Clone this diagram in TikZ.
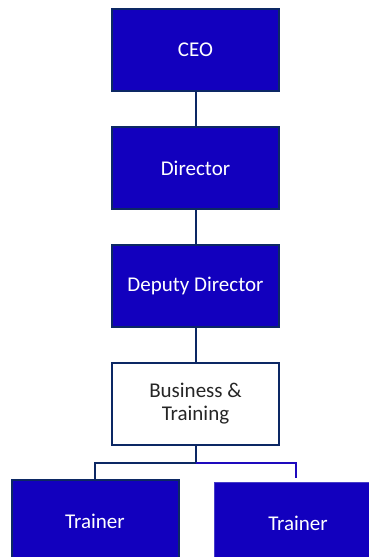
\documentclass[tikz,border=0pt]{standalone}
\usepackage{fontspec}
\setmainfont{Carlito}
\definecolor{boxfill}{RGB}{18,0,190}
\definecolor{navy}{RGB}{12,40,100}
\definecolor{lineblue}{RGB}{30,10,190}
\definecolor{lightedge}{RGB}{70,60,200}
\begin{document}
\begin{tikzpicture}[x=1pt,y=-1pt,
  org/.style={rectangle, minimum width=167pt, minimum height=82pt, inner sep=0pt, outer sep=0pt,
    line width=2pt, draw=navy, fill=boxfill, text=white, align=center,
    font=\fontsize{21}{23}\selectfont},
  orgw/.style={org, fill=white, text=black!85},
  conn/.style={draw=navy, line width=2pt}]
\useasboundingbox (0,0) rectangle (368,557);
\node[org] (ceo) at (195.5,50) {CEO};
\node[org] (dir) at (195.5,168) {Director};
\node[org] (dep) at (195.5,285.5) {Deputy Director};
\node[orgw] (bus) at (195.5,403.5) {Business \&\\Training};
\node[org] (tl) at (95,521) {Trainer};
\node[org, draw=lightedge, line width=1pt] (tr) at (298,523) {Trainer};
\coordinate (j) at (195.5,462.5);
\coordinate (rend) at (296,478);
\draw[conn] (ceo) -- (dir);
\draw[conn] (dir) -- (dep);
\draw[conn] (dep) -- (bus);
\draw[conn] (bus) -- (j) -| (tl.north);
\draw[draw=lineblue, line width=2pt] (j) -| (rend);
\end{tikzpicture}
\end{document}
